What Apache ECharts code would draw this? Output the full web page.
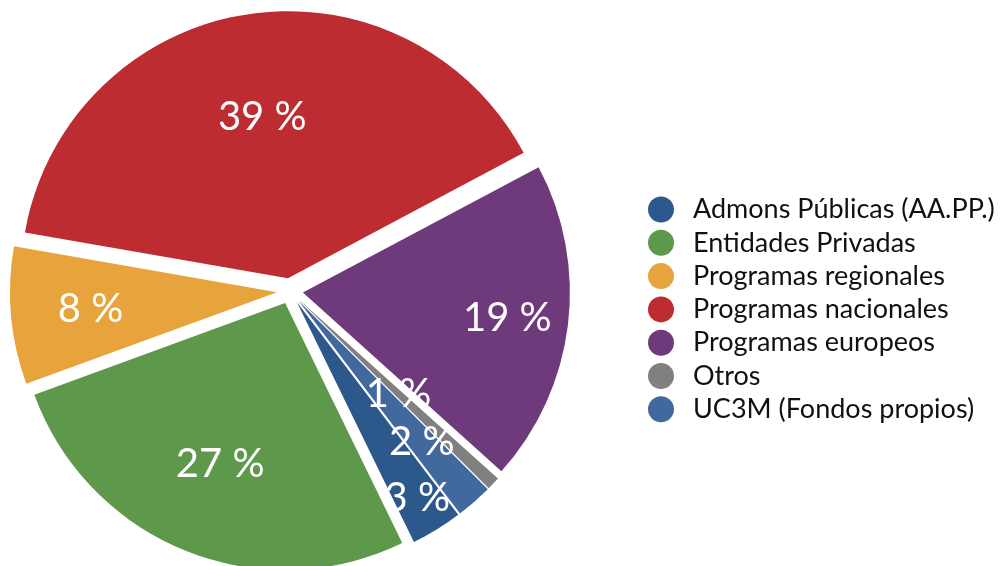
<!DOCTYPE html>
<html>
<head>
<meta charset="utf-8">
<script src="https://cdn.jsdelivr.net/npm/echarts@6/dist/echarts.min.js"></script>
<style>
  html, body { margin: 0; padding: 0; background: #fff; }
  #main { width: 1008px; height: 566px; }
</style>
</head>
<body>
<div id="main"></div>
<script>
// categorias de financiacion, en orden de la leyenda (sentido horario en la tarta)
const categories = [
  "Admons Públicas (AA.PP.)",
  "Entidades Privadas",
  "Programas regionales",
  "Programas nacionales",
  "Programas europeos",
  "Otros",
  "UC3M (Fondos propios)",
];
// porcentajes estimados del dibujo (la etiqueta muestra el valor redondeado)
const shares = [3.1, 26.6, 8.3, 39.4, 19.4, 0.8, 2.2];
const colors = ["#2d588b", "#5e984a", "#e8a43c", "#bc2c31", "#6e3a7b", "#7f807f", "#42699d"];

// distancia de cada etiqueta al centro, como fraccion del radio
const labelRadius = [0.85, 0.64, 0.69, 0.6, 0.76, 0.46, 0.69];

const font = "Lato, 'Open Sans', sans-serif";
const R = 267;
const pieCenter = [290, 291];
const startAngle = -52.8;

const baseSeries = {
  type: "pie",
  center: pieCenter,
  startAngle: startAngle,
  selectedMode: "multiple",
  selectedOffset: 13,
  silent: true,
  labelLine: { show: false },
};

const series = [
  Object.assign({}, baseSeries, {
    radius: [0, R],
    label: { show: false },
    data: categories.map((name, i) => ({
      name: name,
      value: shares[i],
      selected: true,
      itemStyle: { color: colors[i] },
    })),
  }),
];

// una capa transparente por etiqueta para poder colocarla a su propia distancia
categories.forEach((cat, k) => {
  const r0 = Math.max(0, 2 * labelRadius[k] * R - R);
  series.push(Object.assign({}, baseSeries, {
    radius: [r0, R],
    avoidLabelOverlap: false,
    labelLayout: { hideOverlap: false },
    itemStyle: { color: "rgba(0,0,0,0)" },
    label: {
      show: true,
      position: "inside",
      color: "#fff",
      fontFamily: font,
      fontSize: 40,
      formatter: (p) => Math.round(p.value) + " %",
    },
    data: categories.map((name, i) => ({
      name: name,
      value: shares[i],
      selected: true,
      label: { show: i === k },
    })),
  }));
});

const chart = echarts.init(document.getElementById("main"));
chart.setOption({
  animation: false,
  legend: {
    orient: "vertical",
    left: 643,
    top: 191,
    icon: "circle",
    itemWidth: 26,
    itemHeight: 26,
    itemGap: 6.3,
    selectedMode: false,
    textStyle: { fontFamily: font, fontSize: 27, color: "#111", padding: [0, 0, 0, 14] },
    data: categories,
  },
  series: series,
});
</script>
</body>
</html>
